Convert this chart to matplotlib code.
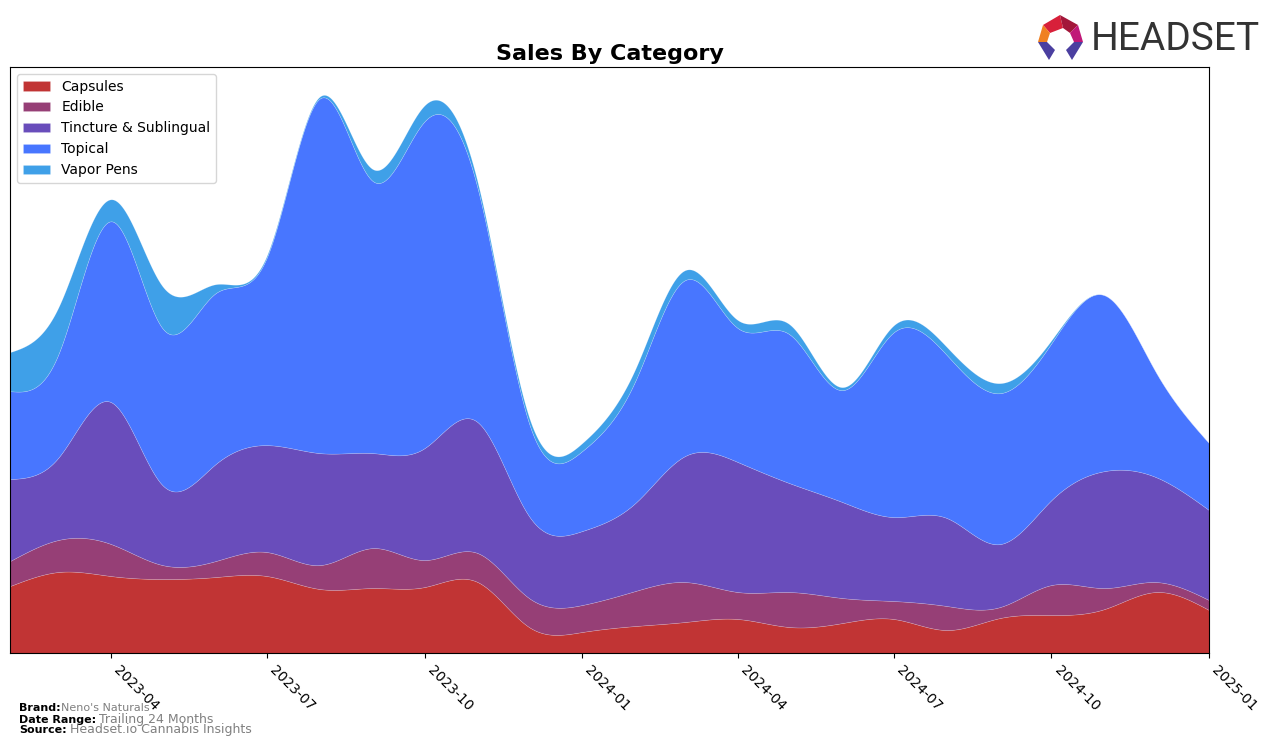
import numpy as np
import pandas as pd
import matplotlib
matplotlib.use("Agg")
import matplotlib.pyplot as plt
import matplotlib.dates as mdates
from matplotlib.patches import Polygon

# ---------------- data ----------------
months = pd.date_range("2023-02-01", "2025-01-01", freq="MS")
categories = ["Capsules", "Edible", "Tincture & Sublingual", "Topical", "Vapor Pens"]

capsules = [67, 81, 77, 74, 76, 77, 64, 65, 66, 71, 26, 21,
            27, 31, 34, 26, 30, 34, 23, 35, 38, 44, 61, 43]
edible = [25, 32, 32, 14, 16, 24, 24, 40, 27, 29, 29, 27,
          35, 40, 27, 35, 25, 18, 24, 11, 30, 21, 10, 10]
tincture = [82, 82, 142, 80, 97, 107, 112, 95, 112, 131, 82, 74,
            88, 126, 130, 109, 96, 84, 88, 63, 85, 117, 105, 90]
topical = [88, 103, 181, 157, 171, 188, 355, 272, 327, 234, 93, 80,
           122, 176, 134, 149, 112, 185, 163, 151, 157, 176, 105, 67]
vapor_pens = [39, 47, 22, 42, 9, 2, 2, 12, 16, 6, 6, 8,
              12, 10, 8, 10, 3, 7, 8, 10, 3, 0, 0, 0]

colors = ["#C13434", "#963F76", "#694DBB", "#4876FF", "#3FA0E8"]

# ---------------- smoothing (natural cubic spline) ----------------
def spline(x, y, xs):
    x = np.asarray(x, float); y = np.asarray(y, float)
    n = len(x); h = np.diff(x)
    A = np.zeros((n, n)); b = np.zeros(n)
    A[0, 0] = 1.0
    A[-1, -1] = 1.0
    for i in range(1, n - 1):
        A[i, i - 1] = h[i - 1]; A[i, i] = 2 * (h[i - 1] + h[i]); A[i, i + 1] = h[i]
        b[i] = 6 * ((y[i + 1] - y[i]) / h[i] - (y[i] - y[i - 1]) / h[i - 1])
    M = np.linalg.solve(A, b)
    idx = np.clip(np.searchsorted(x, xs) - 1, 0, n - 2)
    x0 = x[idx]; x1 = x[idx + 1]; hh = h[idx]
    return (M[idx] * (x1 - xs) ** 3 / (6 * hh) + M[idx + 1] * (xs - x0) ** 3 / (6 * hh)
            + (y[idx] / hh - M[idx] * hh / 6) * (x1 - xs)
            + (y[idx + 1] / hh - M[idx + 1] * hh / 6) * (xs - x0))

xn = mdates.date2num(months.to_pydatetime())
xs = np.linspace(xn[0], xn[-1], 1200)
series = [capsules, edible, tincture, topical, vapor_pens]
smooth = [np.clip(spline(xn, s, xs), 0, None) for s in series]

# ---------------- figure ----------------
fig = plt.figure(figsize=(12.76, 7.47), dpi=100)
ax = fig.add_axes([10 / 1276, 94 / 747, 1199 / 1276, 586 / 747])
ax.stackplot(xs, *smooth, labels=categories, colors=colors, linewidth=0.4,
             edgecolor=(1, 1, 1, 0.25))
ax.set_xlim(xn[0], xn[-1])
ax.set_ylim(bottom=0)
ax.set_yticks([])
ax.xaxis.set_major_locator(mdates.MonthLocator(bymonth=[1, 4, 7, 10]))
ax.xaxis.set_major_formatter(mdates.DateFormatter("%Y-%m"))
for lbl in ax.get_xticklabels():
    lbl.set_rotation(-45)
    lbl.set_ha("left")
ax.tick_params(axis="x", labelsize=10)
ax.set_title("Sales By Category", fontsize=16, fontweight="bold", pad=5)
ax.legend(loc="upper left", fontsize=10, frameon=True)

# footer
fig.text(19 / 1276, 1 - 708 / 747, "Brand:", fontsize=8, fontweight="bold", va="center")
fig.text(61 / 1276, 1 - 708 / 747, "Neno's Naturals", fontsize=8, color="gray", va="center")
fig.text(19 / 1276, 1 - 720 / 747, "Date Range:", fontsize=8, fontweight="bold", va="center")
fig.text(99 / 1276, 1 - 720 / 747, "Trailing 24 Months", fontsize=9, color="gray", va="center")
fig.text(19 / 1276, 1 - 730 / 747, "Source:", fontsize=8, fontweight="bold", va="center")
fig.text(70 / 1276, 1 - 730 / 747, "Headset.io Cannabis Insights", fontsize=9, color="gray", va="center")

# logo
fig.text(1091 / 1276, 1 - 39 / 747, "HEADSET", fontsize=28, color="#333333",
         va="center", ha="left", family=["Roboto", "DejaVu Sans"])
def P(pts, c):
    fig.patches.append(Polygon([(px / 1276, 1 - py / 747) for px, py in pts], closed=True,
                               facecolor=c, edgecolor="none", transform=fig.transFigure))
P([(1043, 25), (1060, 15), (1063, 28), (1050, 33)], "#D8203A")
P([(1060, 15), (1078, 25), (1070, 33), (1063, 28)], "#A3173A")
P([(1078, 25), (1083, 42), (1074, 42), (1070, 33)], "#C01878")
P([(1043, 25), (1050, 33), (1047, 42), (1038, 42)], "#F08020")
P([(1038, 42), (1047, 42), (1055, 50), (1049, 60)], "#4B3FA0")
P([(1083, 42), (1074, 42), (1066, 50), (1072, 60)], "#4B3FA0")

fig.savefig("out.png", dpi=100)
